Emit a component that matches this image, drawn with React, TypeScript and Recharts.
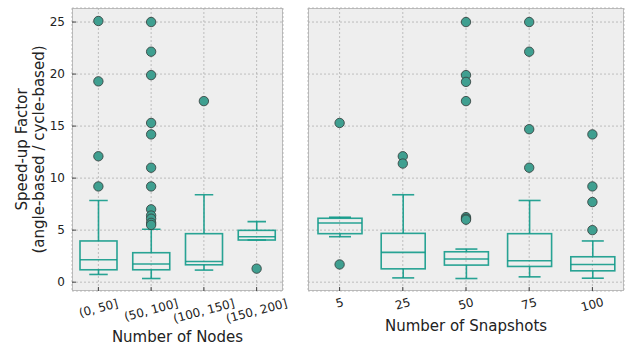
import React from 'react';
import { ComposedChart, Bar, Scatter, XAxis, YAxis, CartesianGrid } from 'recharts';

// box plot stats
const nodeCats = ['(0, 50]', '(50, 100]', '(100, 150]', '(150, 200]'];
const nodeLow = [0.74, 0.35, 1.16, 4.05];
const nodeQ1 = [1.19, 1.19, 1.67, 4.05];
const nodeMed = [2.15, 1.74, 1.99, 4.37];
const nodeQ3 = [3.96, 2.83, 4.66, 4.98];
const nodeHigh = [7.85, 5.08, 8.4, 5.82];
const nodeOutliers = [
  [25.1, 19.3, 12.1, 9.2],
  [25.0, 22.15, 19.9, 15.3, 14.2, 11.0, 9.2, 7.0, 6.4, 6.1, 5.7, 5.5],
  [17.4],
  [1.3],
];

const snapCats = ['5', '25', '50', '75', '100'];
const snapLow = [4.37, 0.41, 0.35, 0.51, 0.38];
const snapQ1 = [4.66, 1.28, 1.64, 1.51, 1.09];
const snapMed = [5.69, 2.86, 2.22, 2.06, 1.7];
const snapQ3 = [6.14, 4.69, 2.92, 4.66, 2.44];
const snapHigh = [6.24, 8.4, 3.18, 7.85, 3.96];
const snapOutliers = [
  [15.3, 1.7],
  [12.1, 11.4],
  [25.0, 19.9, 19.25, 17.4, 6.25, 6.1, 6.0],
  [25.0, 22.15, 14.7, 11.0],
  [14.2, 9.2, 7.7, 5.0],
];

const yTicks = [0, 5, 10, 15, 20, 25];
const yDomain = [-0.85, 26.35];

const TEAL = '#129a89';
const FONT = '"DejaVu Sans", sans-serif';

const buildRows = (cats, low, q1, med, q3, high) =>
  cats.map((name, i) => ({
    name,
    low: low[i],
    q1: q1[i],
    med: med[i],
    q3: q3[i],
    high: high[i],
    range: [low[i], high[i]],
  }));

const buildOutliers = (cats, outs) =>
  cats.flatMap((name, i) => outs[i].map((v) => ({ name, v })));

const BoxShape = (props: any) => {
  const { x, y, width, height, payload } = props;
  const top = Math.min(y, y + height);
  const h = Math.abs(height);
  const span = payload.high - payload.low;
  const yOf = (v: number) => (span > 0 ? top + ((payload.high - v) / span) * h : top);
  const cx = x + width / 2;
  const cap = width / 4;
  const yHi = yOf(payload.high);
  const yQ3 = yOf(payload.q3);
  const yMed = yOf(payload.med);
  const yQ1 = yOf(payload.q1);
  const yLo = yOf(payload.low);
  return (
    <g stroke={TEAL} strokeWidth={1.6} fill="none" strokeOpacity={0.9}>
      <line x1={cx} x2={cx} y1={yHi} y2={yQ3} />
      <line x1={cx} x2={cx} y1={yQ1} y2={yLo} />
      <line x1={cx - cap} x2={cx + cap} y1={yHi} y2={yHi} />
      <line x1={cx - cap} x2={cx + cap} y1={yLo} y2={yLo} />
      <rect x={x} y={yQ3} width={width} height={yQ1 - yQ3} />
      <line x1={x} x2={x + width} y1={yMed} y2={yMed} />
    </g>
  );
};

const Dot = (props: any) => {
  const { cx, cy } = props;
  return <circle cx={cx} cy={cy} r={4.7} fill="#3f9f90" stroke="#36413e" strokeWidth={1} strokeOpacity={0.85} />;
};

const RotTick = (props: any) => {
  const { x, y, payload } = props;
  const s = String(payload.value);
  const cy = y + 15 + s.length * 0.9;
  return (
    <text
      x={x}
      y={cy}
      transform={`rotate(-15, ${x}, ${cy})`}
      textAnchor="middle"
      dominantBaseline="central"
      fontFamily={FONT}
      fontSize={12}
      fill="#222"
    >
      {s}
    </text>
  );
};

const NoTick = () => <g />;

const Panel = ({ rows, outliers, width, margin, yWidth, showY, xTitle, xTitleY, barSize }: any) => (
  <ComposedChart width={width} height={348} data={rows} margin={margin}>
    <CartesianGrid stroke="#b0b0b0" strokeDasharray="2 2" strokeWidth={0.8} />
    <XAxis
      dataKey="name"
      allowDuplicatedCategory={false}
      axisLine={false}
      tickSize={-4}
      tickMargin={0}
      tickLine={{ stroke: '#444' }}
      tick={<RotTick />}
      height={57}
      interval={0}
      label={{
        content: ({ viewBox }: any) => (
          <text
            x={viewBox.x + viewBox.width / 2}
            y={xTitleY}
            textAnchor="middle"
            dominantBaseline="central"
            fontFamily={FONT}
            fontSize={15}
            fill="#222"
          >
            {xTitle}
          </text>
        ),
      }}
    />
    <YAxis
      type="number"
      domain={yDomain}
      ticks={yTicks}
      allowDataOverflow
      axisLine={false}
      width={yWidth}
      tickSize={-4}
      tickMargin={11}
      tickLine={{ stroke: '#444' }}
      tick={showY ? { fontFamily: FONT, fontSize: 12, fill: '#222' } : <NoTick />}
      label={
        showY
          ? {
              content: ({ viewBox }: any) => {
                const cy = viewBox.y + viewBox.height / 2;
                return (
                  <g fontFamily={FONT} fontSize={15} fill="#222" textAnchor="middle">
                    <text x={22} y={cy} dominantBaseline="central" transform={`rotate(-90, 22, ${cy})`}>
                      Speed-up Factor
                    </text>
                    <text x={39} y={cy} dominantBaseline="central" transform={`rotate(-90, 39, ${cy})`}>
                      (angle-based / cycle-based)
                    </text>
                  </g>
                );
              },
            }
          : undefined
      }
    />
    <Bar dataKey="range" barSize={barSize} shape={<BoxShape />} isAnimationActive={false} />
    <Scatter data={outliers} dataKey="v" shape={<Dot />} isAnimationActive={false} />
  </ComposedChart>
);

export default function App() {
  const nodeRows = buildRows(nodeCats, nodeLow, nodeQ1, nodeMed, nodeQ3, nodeHigh);
  const snapRows = buildRows(snapCats, snapLow, snapQ1, snapMed, snapQ3, snapHigh);
  const frame = {
    position: 'absolute' as const,
    top: 8,
    height: 283,
    background: '#eeeeee',
    border: '1px solid #bcbcbc',
    boxSizing: 'border-box' as const,
  };
  return (
    <div style={{ position: 'absolute', left: 0, top: 0, width: 626, height: 348, background: '#fff' }}>
      <div style={{ ...frame, left: 72, width: 211 }} />
      <div style={{ ...frame, left: 308, width: 316 }} />
      <div style={{ position: 'absolute', left: 0, top: 0 }}>
        <Panel
          rows={nodeRows}
          outliers={buildOutliers(nodeCats, nodeOutliers)}
          width={290}
          margin={{ top: 8, right: 7, bottom: 0, left: 0 }}
          yWidth={72}
          showY
          xTitle="Number of Nodes"
          xTitleY={337}
          barSize={37}
        />
      </div>
      <div style={{ position: 'absolute', left: 300, top: 0 }}>
        <Panel
          rows={snapRows}
          outliers={buildOutliers(snapCats, snapOutliers)}
          width={326}
          margin={{ top: 8, right: 2, bottom: 0, left: 8 }}
          yWidth={0}
          showY={false}
          xTitle="Number of Snapshots"
          xTitleY={326}
          barSize={44}
        />
      </div>
    </div>
  );
}
